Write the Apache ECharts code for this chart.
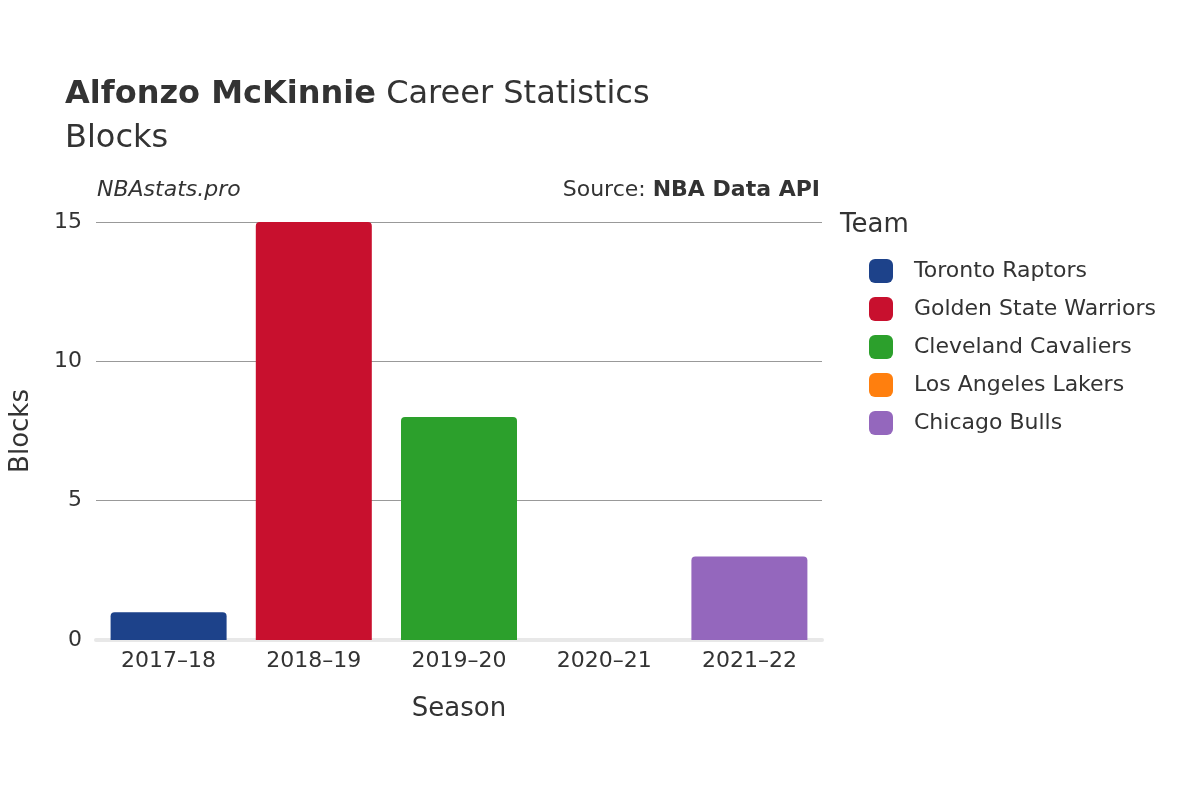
<!DOCTYPE html>
<html>
<head>
<meta charset="utf-8">
<script src="https://cdn.jsdelivr.net/npm/echarts@6/dist/echarts.min.js"></script>
<style>html,body{margin:0;padding:0;background:#fff}#chart{width:1200px;height:800px}</style>
</head>
<body>
<div id="chart"></div>
<script>
// data
const seasons = ['2017–18', '2018–19', '2019–20', '2020–21', '2021–22'];
const teams = ['Toronto Raptors', 'Golden State Warriors', 'Cleveland Cavaliers', 'Los Angeles Lakers', 'Chicago Bulls'];
const teamColors = ['#1d428a', '#c8102e', '#2ca02c', '#ff7f0e', '#9467bd'];
const teamSeason = [0, 1, 2, 3, 4];
const blocks = [1, 15, 8, 0, 3];
const yTicks = { min: 0, max: 15, interval: 5 };

const font = 'DejaVu Sans';
const chart = echarts.init(document.getElementById('chart'));

const series = teams.map((t, i) => {
    let data = seasons.map(() => null);
    data[teamSeason[i]] = blocks[i];
    return {
        name: t,
        type: 'bar',
        stack: 'all',
        data: data,
        barWidth: 116,
        itemStyle: { color: teamColors[i], borderRadius: [4, 4, 0, 0] }
    };
});

chart.setOption({
    textStyle: { fontFamily: font },
    title: {
        text: '{b|Alfonzo McKinnie} Career Statistics\nBlocks',
        left: 60, top: 68,
        textStyle: {
            fontFamily: font, fontSize: 32, color: '#333', fontWeight: 'normal', lineHeight: 44,
            rich: { b: { fontFamily: font, fontSize: 32, fontWeight: 'bold', color: '#333' } }
        }
    },
    graphic: [
        { type: 'text', left: 97, top: 179, style: { text: 'NBAstats.pro', font: 'italic 22px "DejaVu Sans"', fill: '#333' } },
        { type: 'text', right: 380, top: 179, style: { text: '{n|Source: }{b|NBA Data API}', font: '22px "DejaVu Sans"', fill: '#333',
            rich: { n: { fontFamily: font, fontSize: 22, fill: '#333' }, b: { fontFamily: font, fontSize: 22, fontWeight: 'bold', fill: '#333' } } } },
        { type: 'text', left: 840, top: 212, style: { text: 'Team', font: '26px "DejaVu Sans"', fill: '#333' } }
    ],
    legend: {
        orient: 'vertical',
        left: 864, top: 254,
        itemWidth: 24, itemHeight: 24, itemGap: 14,
        icon: 'roundRect',
        textStyle: { fontFamily: font, fontSize: 22, color: '#333', padding: [0, 0, 0, 16] },
        data: teams
    },
    grid: { left: 92, right: 378, top: 222, bottom: 160 },
    xAxis: {
        type: 'category',
        data: seasons,
        name: 'Season', nameLocation: 'middle', nameGap: 56,
        nameTextStyle: { fontFamily: font, fontSize: 26, color: '#333' },
        axisLine: { show: true, lineStyle: { color: '#e8e8e8', width: 4 } },
        axisTick: { show: false },
        axisLabel: { fontFamily: font, fontSize: 22, color: '#333', margin: 10 }
    },
    yAxis: {
        type: 'value',
        min: yTicks.min, max: yTicks.max, interval: yTicks.interval,
        name: 'Blocks', nameLocation: 'middle', nameGap: 62,
        nameTextStyle: { fontFamily: font, fontSize: 26, color: '#333' },
        axisLabel: { fontFamily: font, fontSize: 22, color: '#333', margin: 14 },
        splitLine: { lineStyle: { color: '#999', width: 1 } }
    },
    series: series
});
</script>
</body>
</html>
